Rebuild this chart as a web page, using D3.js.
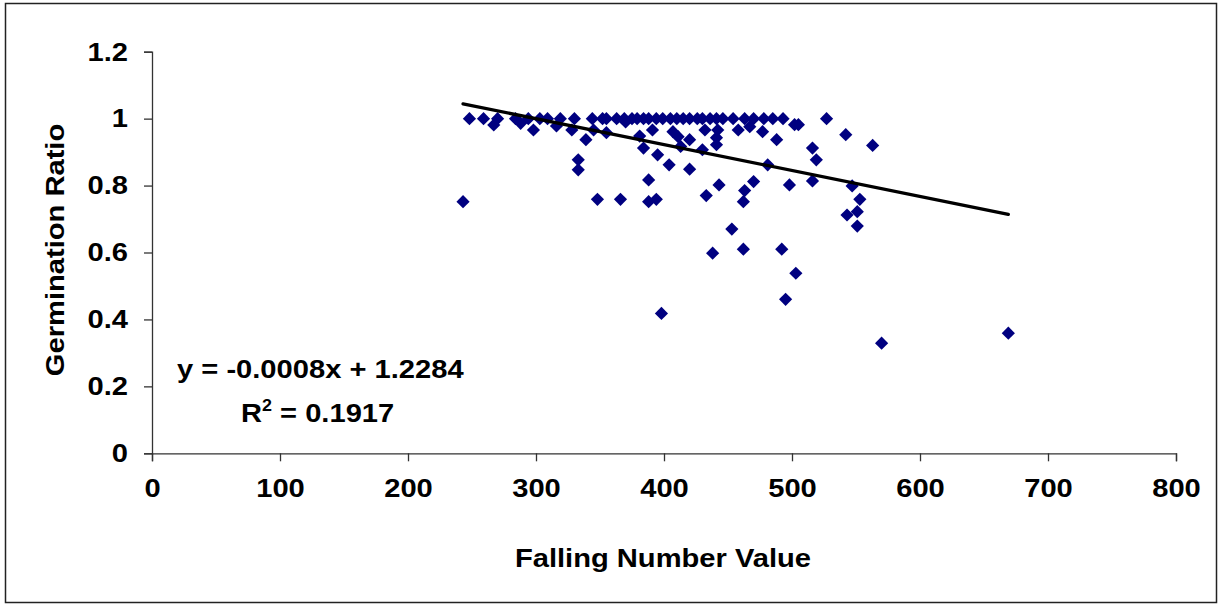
<!DOCTYPE html>
<html><head><meta charset="utf-8">
<script src="https://cdn.jsdelivr.net/npm/d3@7"></script>
<style>body{margin:0;background:#fff}svg{display:block}text{font-family:"Liberation Sans",Arial,sans-serif;font-weight:bold}</style>
</head><body><svg id="c" width="1220" height="607"></svg>
<script>
const fallingNumber = [
 248,259,270,284,294,303,309,319,330,344,352,355,363,369,375,379,384,388,394,399,405,410,415,420,426,430,436,441,446,454,463,470,478,485,493,527,502,
 288,267,298,316,328,339,345,355,370,381,391,407,411,420,432,441,442,458,467,477,488,505,542,563,
 384,395,404,413,420,430,441,481,516,519,388,443,470,498,516,547,553,551,543,551,333,333,
 243,348,366,388,394,433,463,462,453,438,462,492,503,495,398,570,669
];
const germinationRatio = [
 1,1,1,1,1,1,1,1,1,1,1,1,1,1,1,1,1,1,1,1,1,1,1,1,1,1,1,1,1,1,1,1,1,1,1,1,0.982,
 0.986,0.981,0.966,0.978,0.966,0.937,0.966,0.958,0.99,0.948,0.966,0.961,0.946,0.937,0.966,0.943,0.966,0.966,0.976,0.961,0.937,0.982,0.952,0.92,
 0.912,0.892,0.862,0.917,0.849,0.907,0.922,0.862,0.912,0.877,0.817,0.802,0.812,0.802,0.814,0.799,0.759,0.722,0.712,0.679,0.877,0.847,
 0.752,0.759,0.759,0.752,0.759,0.77,0.785,0.752,0.67,0.598,0.61,0.61,0.538,0.46,0.418,0.329,0.359
];
const xTicks = [0,100,200,300,400,500,600,700,800];
const yTicks = [0,0.2,0.4,0.6,0.8,1,1.2];
const yTickLabels = ["0","0.2","0.4","0.6","0.8","1","1.2"];
const trendSlope = -0.000775, trendIntercept = 1.2325;
const equationLines = ["y = -0.0008x + 1.2284", "R", "2", " = 0.1917"];

const FS = 26, STRETCH = 1.12;
const svg = d3.select("#c");
svg.append("rect").attr("x",5.5).attr("y",3.5).attr("width",1211).attr("height",599)
  .attr("fill","#fff").attr("stroke","#222").attr("stroke-width",1.5);

const x = d3.scaleLinear().domain([0,800]).range([152,1176]);
const y = d3.scaleLinear().domain([0,1.2]).range([453.3,51.7]);

function stretch(sel){
  sel.each(function(){
    const w = this.getComputedTextLength();
    d3.select(this).attr("textLength", w*STRETCH).attr("lengthAdjust","spacingAndGlyphs");
  });
}

const xa = svg.append("g").attr("transform","translate(0,453.3)")
  .call(d3.axisBottom(x).tickValues(xTicks).tickSize(8).tickPadding(17).tickFormat(d3.format("d")));
const ya = svg.append("g").attr("transform","translate(152,0)")
  .call(d3.axisLeft(y).tickValues(yTicks).tickSize(8).tickPadding(16).tickFormat((d,i)=>yTickLabels[i]));
[xa,ya].forEach(g=>{
  g.select(".domain").attr("stroke","#333").attr("stroke-width",1.3);
  g.selectAll(".tick line").attr("stroke","#333").attr("stroke-width",1.3);
  g.selectAll("text").attr("font-size",FS).attr("font-weight","bold").attr("fill","#000")
   .attr("font-family","Liberation Sans, Arial, sans-serif").call(stretch);
});

svg.append("text").attr("transform","translate(64,250) rotate(-90)").attr("text-anchor","middle")
  .attr("font-size",FS).text("Germination Ratio").call(stretch);
svg.append("text").attr("x",663).attr("y",567).attr("text-anchor","middle")
  .attr("font-size",FS).text("Falling Number Value").call(stretch);

const pts = fallingNumber.map((v,i)=>[v,germinationRatio[i]]);
const s = 6.6;
svg.append("g").selectAll("path").data(pts).join("path")
  .attr("transform",d=>`translate(${x(d[0])},${y(d[1])})`)
  .attr("d",`M0,${-s}L${s},0L0,${s}L${-s},0Z`).attr("fill","#000080");

const xmin = d3.min(fallingNumber), xmax = d3.max(fallingNumber);
svg.append("line").attr("x1",x(xmin)).attr("y1",y(trendIntercept+trendSlope*xmin))
  .attr("x2",x(xmax)).attr("y2",y(trendIntercept+trendSlope*xmax))
  .attr("stroke","#000").attr("stroke-width",3.3).attr("stroke-linecap","round");

svg.append("text").attr("x",177).attr("y",378).attr("font-size",FS).text(equationLines[0]).call(stretch);
const g2 = svg.append("g").attr("transform",`translate(241,422) scale(${STRETCH},1)`);
const t2 = g2.append("text").attr("x",0).attr("y",0).attr("font-size",FS);
t2.append("tspan").text(equationLines[1]);
t2.append("tspan").attr("dy",-11).attr("font-size",16).text(equationLines[2]);
t2.append("tspan").attr("dy",11).text(equationLines[3]);
</script></body></html>
